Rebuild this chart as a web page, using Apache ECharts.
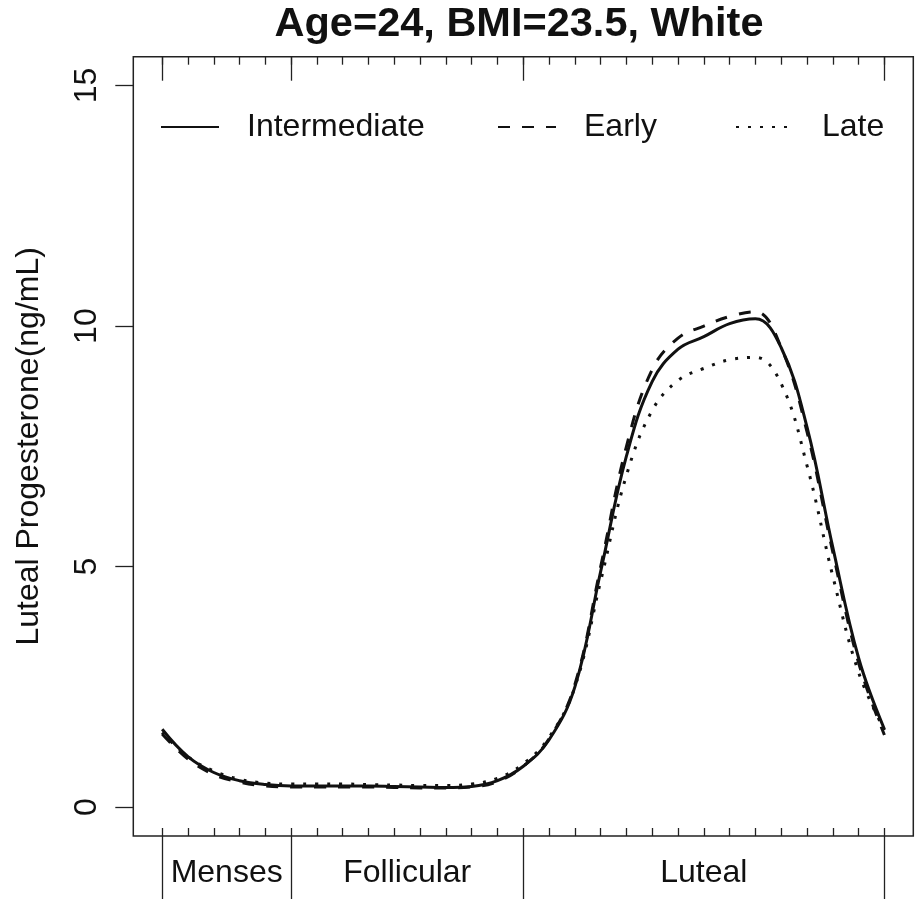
<!DOCTYPE html>
<html>
<head>
<meta charset="utf-8">
<script src="https://cdn.jsdelivr.net/npm/echarts@6/dist/echarts.min.js"></script>
<style>
html,body{margin:0;padding:0;background:#fff;}
#chart{width:916px;height:899px;}
</style>
</head>
<body>
<div id="chart"></div>
<script>
// ---- data ----
const titleText = 'Age=24, BMI=23.5, White';
const yAxisName = 'Luteal Progesterone(ng/mL)';
const days = [0,1,2,3,4,5,6,7,8,9,10,11,12,13,14,15,16,17,18,19,20,21,22,23,24,25,26,27,28];
const intermediate = [1.62,1.05,0.72,0.55,0.47,0.44,0.44,0.44,0.44,0.43,0.42,0.41,0.43,0.55,0.85,1.40,2.50,4.90,7.30,8.85,9.52,9.78,10.05,10.15,9.55,7.90,5.40,3.10,1.62];
const early        = [1.52,1.00,0.68,0.52,0.44,0.42,0.42,0.42,0.42,0.41,0.40,0.40,0.42,0.53,0.85,1.42,2.55,5.00,7.50,9.10,9.75,10.00,10.20,10.30,9.55,7.80,5.30,3.00,1.50];
const late         = [1.55,1.05,0.75,0.58,0.50,0.48,0.48,0.48,0.47,0.46,0.45,0.45,0.48,0.60,0.90,1.45,2.50,4.70,6.90,8.25,8.87,9.12,9.30,9.35,8.80,7.10,4.80,2.80,1.60];
const seriesNames = ['Intermediate','Early','Late'];
const yTicks = [0,5,10,15];
const phaseBounds = [0,5,14,28];
const phaseNames = ['Menses','Follicular','Luteal'];
const phaseMids = [2.5,9.5,21];

// ---- chart ----
const FONT = '"Liberation Sans", Arial, sans-serif';
const INK = '#222';
const xMin = -1.12, xMax = 29.12;
const pair = arr => days.map((d,i)=>[d, arr[i]]);

const baseX = {
  type:'value', min:xMin, max:xMax, gridIndex:0,
  axisLine:{show:false, onZero:false}, splitLine:{show:false},
  axisLabel:{show:false}
};

const option = {
  animation:false,
  backgroundColor:'#fff',
  title:{
    text:titleText, left:514, top:-1, textAlign:'center',
    textStyle:{fontFamily:FONT, fontSize:41.5, fontWeight:'bold', color:'#111'}
  },
  legend:[
    {data:[seriesNames[0]], left:160, top:111},
    {data:[seriesNames[1]], left:497, top:111},
    {data:[seriesNames[2]], left:735, top:111}
  ].map(l=>Object.assign(l,{
    itemWidth:58, itemHeight:14, orient:'horizontal', padding:0,
    itemStyle:{opacity:0},
    textStyle:{fontFamily:FONT, fontSize:32, color:'#111', padding:[0,0,0,23], lineHeight:32}
  })),
  grid:{left:133.3, top:56.7, width:780, height:779.3, show:true, borderColor:INK, borderWidth:1.5, backgroundColor:'transparent'},
  xAxis:[
    Object.assign({}, baseX, {position:'bottom',
      axisTick:{show:true, inside:true, length:8, customValues:days, lineStyle:{color:INK,width:1.3}}}),
    Object.assign({}, baseX, {position:'top',
      axisTick:{show:true, inside:true, length:8, customValues:days, lineStyle:{color:INK,width:1.3}}}),
    Object.assign({}, baseX, {position:'top',
      axisTick:{show:true, inside:true, length:24, customValues:phaseBounds, lineStyle:{color:INK,width:1.3}}}),
    Object.assign({}, baseX, {position:'bottom',
      axisTick:{show:true, inside:false, length:70, customValues:phaseBounds, lineStyle:{color:INK,width:1.3}},
      axisLabel:{show:true, customValues:phaseMids, margin:37, verticalAlign:'middle',
        fontFamily:FONT, fontSize:32, color:'#111',
        formatter:v=>phaseNames[phaseMids.indexOf(v)]}})
  ],
  yAxis:{
    type:'value', min:-0.6, max:15.6,
    axisLine:{show:false, onZero:false}, splitLine:{show:false},
    axisTick:{show:true, inside:false, length:18, customValues:yTicks, lineStyle:{color:INK,width:1.3}},
    axisLabel:{show:true, customValues:yTicks, rotate:90, margin:30,
      fontFamily:FONT, fontSize:32, color:'#111'},
    name:yAxisName, nameLocation:'middle', nameRotate:90, nameGap:88,
    nameTextStyle:{fontFamily:FONT, fontSize:32, color:'#111'}
  },
  series:[
    {name:seriesNames[0], type:'line', data:pair(intermediate), smooth:0.4, symbol:'none',
     lineStyle:{color:'#111', width:3, type:'solid'}},
    {name:seriesNames[1], type:'line', data:pair(early), smooth:0.4, symbol:'none',
     lineStyle:{color:'#111', width:3, type:[12,12]}},
    {name:seriesNames[2], type:'line', data:pair(late), smooth:0.4, symbol:'none',
     lineStyle:{color:'#111', width:3, type:[3,9]}}
  ]
};
const chart = echarts.init(document.getElementById('chart'), null, {renderer:'canvas'});
chart.setOption(option);
</script>
</body>
</html>
